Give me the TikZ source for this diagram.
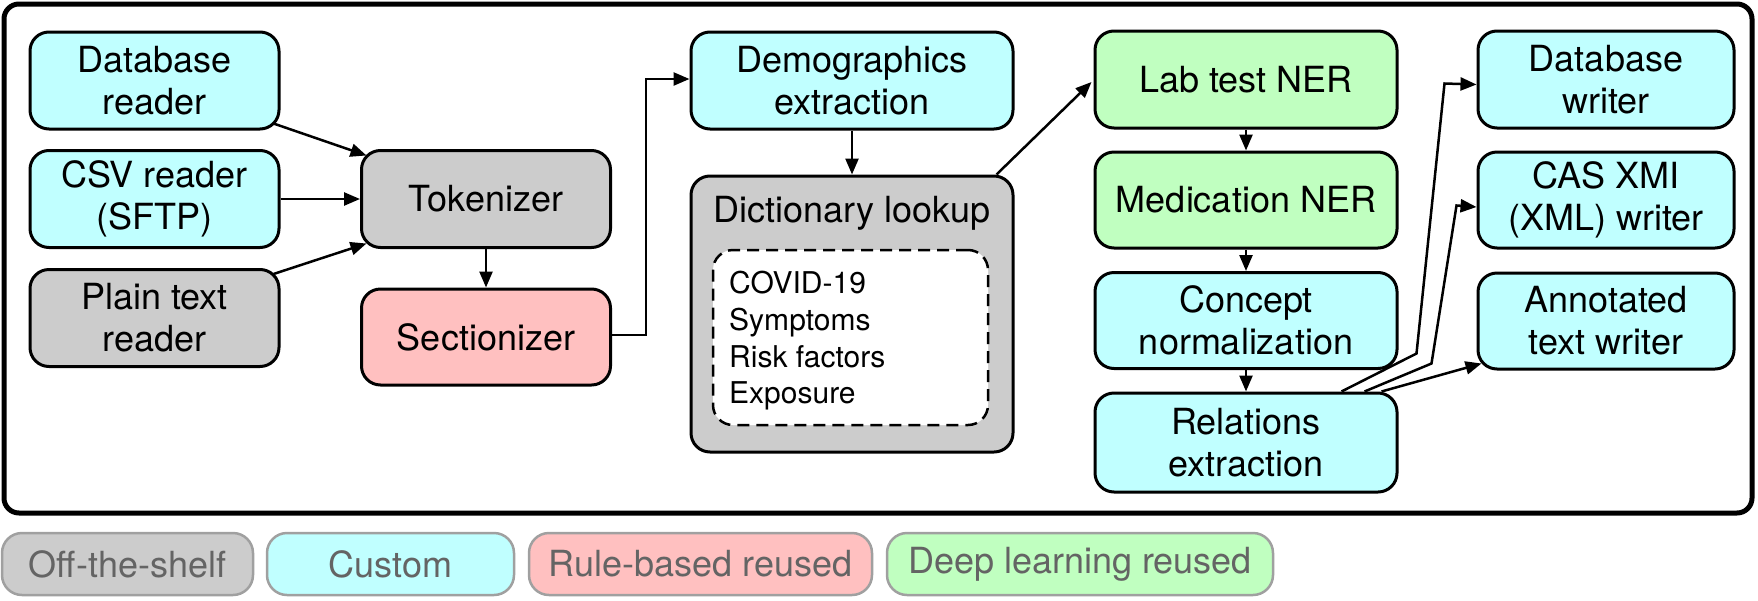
\documentclass[tikz,border=0pt]{standalone}
\usepackage{fontspec}
\setmainfont{TeX Gyre Heros}
\usetikzlibrary{arrows.meta,calc}
\definecolor{cy}{RGB}{192,255,255}
\definecolor{gr}{RGB}{204,204,204}
\definecolor{pk}{RGB}{255,192,192}
\definecolor{gn}{RGB}{192,255,192}
\definecolor{lgline}{RGB}{160,160,160}
\definecolor{lgtext}{RGB}{100,100,100}
\begin{document}
\begin{tikzpicture}[x=1pt,y=-1pt,
  box/.style={draw, line width=3pt, rounded corners=19pt, align=center, inner sep=0pt,
    font=\fontsize{36}{42}\selectfont},
  lcol/.style={box, minimum width=249pt, minimum height=97pt},
  mcol/.style={box, minimum width=302pt, minimum height=97pt},
  rcol/.style={box, minimum width=256pt, minimum height=97pt},
  conn/.style={line width=2.5pt, -{Triangle[length=16pt,width=13pt]}},
  leg/.style={draw=lgline, line width=2.5pt, rounded corners=20pt, text=lgtext,
    inner sep=0pt, minimum height=62pt, font=\fontsize{36}{40}\selectfont}]
\useasboundingbox (0,0) rectangle (1758,600);
% outer frame
\draw[line width=5pt, rounded corners=15pt] (4,4) rectangle (1752,513);
% left column
\node[lcol, fill=cy] (db) at (154.5,80.5) {Database\\reader};
\node[lcol, fill=cy] (csv) at (154.5,199) {CSV reader\\(SFTP)};
\node[lcol, fill=gr] (plain) at (154.5,318) {Plain text\\reader};
\node[lcol, fill=gr] (tok) at (486,199) {Tokenizer};
\node[lcol, fill=pk, minimum height=96pt] (sec) at (486,337) {Sectionizer};
% dictionary column
\node[box, fill=cy, minimum width=322pt, minimum height=97pt] (demo) at (852,80.5) {Demographics\\extraction};
\node[box, fill=gr, minimum width=322pt, minimum height=276pt] (dict) at (852,314) {};
\node[anchor=base, inner sep=0pt, font=\fontsize{36}{42}\selectfont] (dicttitle) at (852,222) {Dictionary lookup};
\node[draw, dashed, dash pattern=on 12pt off 7pt, line width=2.5pt, fill=white, rounded corners=20pt,
  minimum width=275pt, minimum height=175pt] (inner) at (850.5,337.5) {};
\node[anchor=north west, inner sep=0pt, align=left, font=\fontsize{30}{36.7}\selectfont] (innertext) at (729,271)
  {COVID-19\\Symptoms\\Risk factors\\Exposure};
% middle column
\node[mcol, fill=gn] (lab) at (1246,79.5) {Lab test NER};
\node[mcol, fill=gn, minimum height=96pt] (med) at (1246,200) {Medication NER};
\node[mcol, fill=cy, minimum height=96pt] (concept) at (1246,320.5) {Concept\\normalization};
\node[mcol, fill=cy, minimum height=99pt] (rel) at (1246,442.5) {Relations\\extraction};
% right column
\node[rcol, fill=cy] (dbw) at (1606,79.5) {Database\\writer};
\node[rcol, fill=cy, minimum height=96pt] (cas) at (1606,200) {CAS XMI\\(XML) writer};
\node[rcol, fill=cy, minimum height=96pt] (ann) at (1606,321) {Annotated\\text writer};
% connectors
\draw[conn] ($(db.south east)+(-7,-7)$) -- ($(tok.north west)+(6.5,6.5)$);
\draw[conn] (csv.east) -- (tok.west);
\draw[conn] ($(plain.north east)+(-7,6)$) -- ($(tok.south west)+(6.5,-5.5)$);
\draw[conn] (tok.south) -- (sec.north);
\draw[conn] ($(sec.east)+(0,-2)$) -- ++(34,0) |- ($(demo.west)+(0,-1.5)$);
\draw[conn] (demo.south) -- (dict.north);
\draw[conn] ($(dict.north east)+(-18,0)$) -- ($(lab.west)+(-2,2.5)$);
\draw[conn] (lab.south) -- (med.north);
\draw[conn] (med.south) -- (concept.north);
\draw[conn] (concept.south) -- (rel.north);
\draw[conn] ($(rel.north east)+(-57,0)$) -- ++(75,-38) -- ++(28,-270) -- ($(dbw.west)+(0,5)$);
\draw[conn] ($(rel.north east)+(-34,0)$) -- ++(67,-28) -- ++(25,-158) -- ($(cas.west)+(0,7)$);
\draw[conn] ($(rel.north east)+(-17,0)$) -- ($(ann.south west)+(5,-7)$);
% legend
\node[leg, fill=gr, minimum width=251pt] (l1) at (127.5,564) {Off-the-shelf};
\node[leg, fill=cy, minimum width=247pt] (l2) at (390.5,564) {Custom};
\node[leg, fill=pk, minimum width=343pt] (l3) at (700.5,564) {Rule-based reused};
\node[leg, fill=gn, minimum width=386pt] (l4) at (1080,564) {Deep learning reused};
\end{tikzpicture}
\end{document}
